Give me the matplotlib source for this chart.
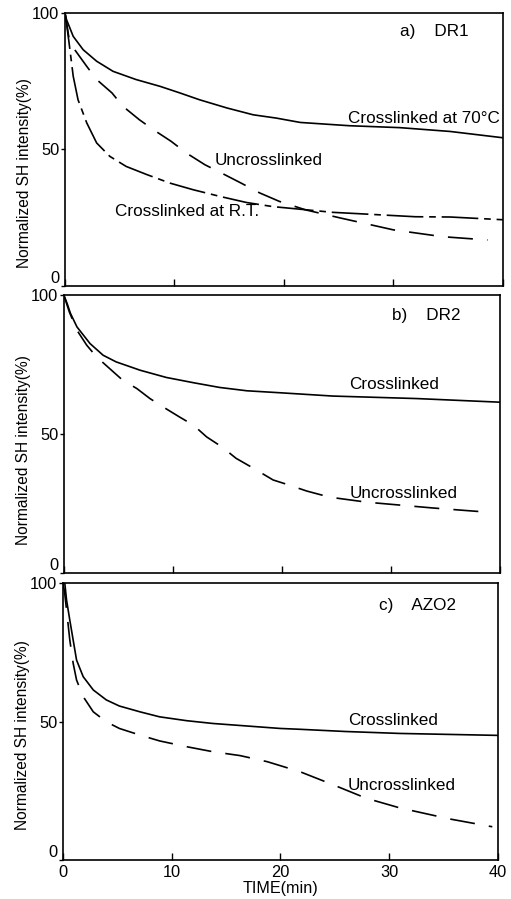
import matplotlib
matplotlib.use('Agg')
import matplotlib.pyplot as plt

plt.rcParams['font.family'] = ['Liberation Sans', 'DejaVu Sans']
plt.rcParams['font.size'] = 12.3

# a) DR1
a_t70 = [0, 0.15, 0.76, 1.67, 2.9, 4.4, 6.5, 8.7, 10.5, 12.3, 14.8, 17.2, 19.3,
         21.5, 26, 30.6, 35.2, 40]
a_y70 = [100, 97.4, 91.3, 86.4, 82.2, 78.5, 75.5, 73, 70.6, 68.1, 65.1, 62.6, 61.4,
         59.8, 58.6, 57.9, 56.5, 54.2]
a_tun = [0, 0.4, 0.9, 2.0, 2.9, 4.3, 5.3, 6.8, 8.1, 9.7, 11.1, 12.8, 14.3, 16.1,
         17.8, 19.6, 22, 25.1, 30, 34.5, 38.6]
a_yun = [100, 90, 86.4, 80.3, 75.5, 70.6, 65.7, 60.8, 57.1, 52.9, 48.6, 44.3, 41.3,
         37.6, 34, 30.9, 27.8, 24.9, 20.5, 18, 16.8]
a_trt = [0, 0.15, 0.46, 0.76, 1.2, 2.0, 2.9, 4.1, 5.6, 7.5, 9.6, 11.7, 14.2, 16.6,
         19, 24.5, 26.9, 32, 35.2, 40]
a_yrt = [100, 96.2, 86.4, 76.7, 68.1, 59.6, 52.3, 47.4, 43.7, 40.7, 37.6, 35.2, 32.7,
         30.5, 29, 26.9, 26.4, 25.3, 25.2, 24.2]

# b) DR2
b_tcr = [0, 0.3, 0.6, 1.2, 2.4, 3.6, 4.8, 7, 9.4, 11.9, 14.3, 16.8, 19.8, 24.7,
         32.4, 40]
b_ycr = [100, 97, 93.5, 88.6, 82.6, 78.4, 76, 73, 70.4, 68.5, 66.8, 65.6, 64.9,
         63.7, 62.8, 61.5]
b_tun = [0, 0.5, 1.2, 2.1, 3.0, 4.2, 5.4, 6.7, 7.9, 9.1, 10.6, 11.9, 13.1, 14.5,
         15.8, 17.4, 19.2, 20.4, 22.3, 24.4, 27.8, 33.9, 38.9]
b_yun = [100, 94, 87.4, 82, 77.8, 73.6, 69.4, 66.4, 62.8, 59.8, 56.2, 53.2, 49, 45.4,
         41.3, 37.7, 33.5, 32, 29.5, 27.3, 25.5, 23.4, 21.9]

# c) AZO2
c_tcr = [0, 0.18, 0.34, 0.64, 0.95, 1.26, 1.87, 2.8, 4.0, 5.2, 7.1, 8.9, 11.4,
         13.8, 16.9, 20, 21.8, 26, 31, 40]
c_ycr = [100, 99.9, 93.9, 86.6, 79.4, 72.2, 66.2, 61.4, 57.8, 55.6, 53.5, 51.7,
         50.3, 49.3, 48.4, 47.5, 47.2, 46.4, 45.7, 45]
c_tun = [0, 0.15, 0.34, 0.64, 0.95, 1.26, 1.87, 2.8, 4.0, 5.2, 7.1, 8.9, 11.4, 13.8,
         16.3, 18.8, 21.8, 24.9, 27.9, 31, 35.6, 39.5]
c_yun = [100, 97, 90.3, 79.4, 71, 65, 59, 53.5, 49.9, 47.5, 45.1, 43, 40.9, 39.1,
         37.7, 35.5, 31.9, 27.1, 22.3, 18.8, 14.8, 12]

xticks = [0, 10, 20, 30, 40]
yticks = [0, 50, 100]

fig = plt.figure(figsize=(5.11, 8.99), dpi=100)
boxes = [[0.127, 0.682, 0.857, 0.304],
         [0.125, 0.3626, 0.853, 0.309],
         [0.123, 0.0434, 0.851, 0.308]]
axs = [fig.add_axes(b) for b in boxes]
# y-label centres sit a little below the axes middle in the print
label_y = [0.414, 0.442, 0.451]

for ax, ly in zip(axs, label_y):
    ax.set_xlim(0, 40)
    ax.set_ylim(0, 100)
    ax.set_xticks(xticks)
    ax.set_yticks(yticks)
    ax.tick_params(axis='x', direction='in', length=5, width=1, labelsize=11.8)
    ax.tick_params(axis='y', direction='out', length=3, width=1, pad=1, labelsize=11.8)
    for s in ax.spines.values():
        s.set_linewidth(1.2)
    ax.set_ylabel('Normalized SH intensity(%)', fontsize=11.2)
    ax.yaxis.set_label_coords(-0.075, ly)
    # the "0" sits just above the bottom spine, as in the print
    ax.get_yticklabels()[0].set_verticalalignment('bottom')

dash = (15, 8.5)
dashdot = (22, 3.5, 4, 3.5)

ax = axs[0]
ax.plot(a_t70, a_y70, color='black', lw=1.2)
ax.plot(a_tun, a_yun, color='black', lw=1.2, dashes=dash)
ax.plot(a_trt, a_yrt, color='black', lw=1.2, dashes=dashdot)
ax.text(39.7, 61.3, 'Crosslinked at 70°C', ha='right', va='center')
ax.text(13.7, 45.8, 'Uncrosslinked', ha='left', va='center')
ax.text(4.6, 27.1, 'Crosslinked at R.T.', ha='left', va='center')
ax.text(30.6, 93, 'a)    DR1', ha='left', va='center')
ax.tick_params(axis='x', labelbottom=False)

ax = axs[1]
ax.plot(b_tcr, b_ycr, color='black', lw=1.2)
ax.plot(b_tun, b_yun, color='black', lw=1.2, dashes=dash)
ax.text(26.2, 68, 'Crosslinked', ha='left', va='center')
ax.text(26.2, 28.8, 'Uncrosslinked', ha='left', va='center')
ax.text(30.1, 92.8, 'b)    DR2', ha='left', va='center')
ax.tick_params(axis='x', labelbottom=False)

ax = axs[2]
ax.plot(c_tcr, c_ycr, color='black', lw=1.2)
ax.plot(c_tun, c_yun, color='black', lw=1.2, dashes=dash)
ax.text(26.2, 50.2, 'Crosslinked', ha='left', va='center')
ax.text(26.2, 27, 'Uncrosslinked', ha='left', va='center')
ax.text(29.1, 92, 'c)    AZO2', ha='left', va='center')
ax.set_xlabel('TIME(min)', labelpad=1, fontsize=11.6)

fig.savefig('out.png', dpi=100)
